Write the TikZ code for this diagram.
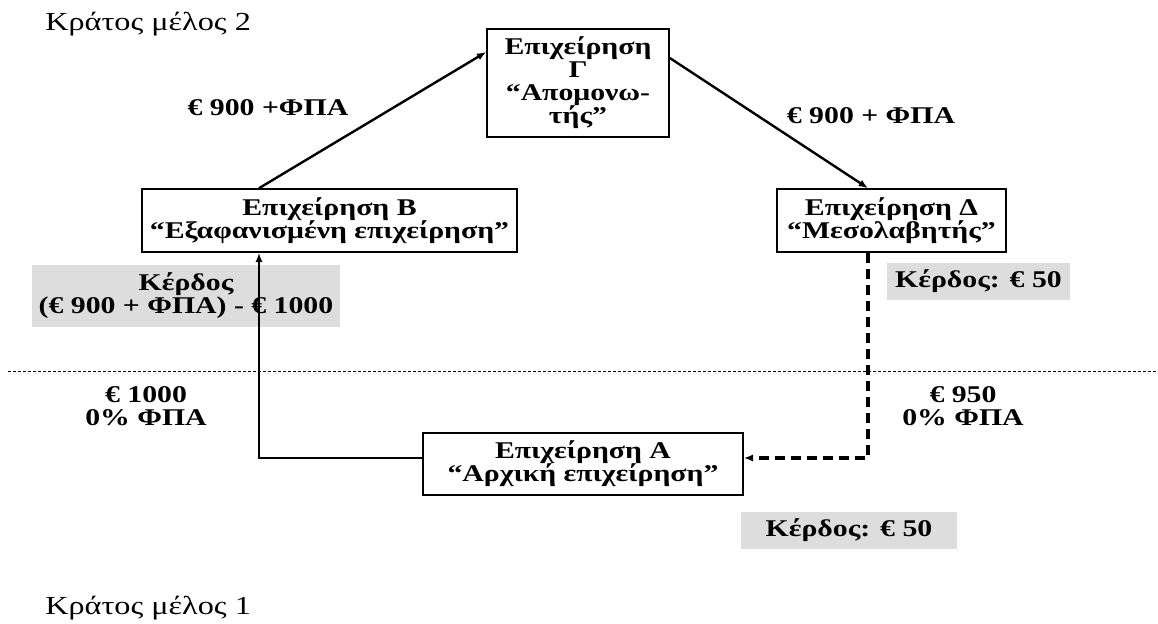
\documentclass[tikz,border=0pt]{standalone}
\usepackage{fontspec}
\setmainfont{Liberation Serif}[FakeStretch=1.24]
\usetikzlibrary{arrows.meta}
\definecolor{greyfill}{RGB}{221,221,221}
\lineskiplimit=-20pt\relax
\begin{document}
\begin{tikzpicture}[x=0.75pt,y=-0.75pt,
  txt/.style={font=\bfseries\fontsize{18}{17.3}\selectfont, align=center, inner sep=0pt},
  box/.style={txt, draw, line width=1.2pt},
  greybox/.style={txt, fill=greyfill},
  plain/.style={font=\fontsize{19.5}{20}\selectfont, inner sep=0pt, anchor=base west},
  arr/.style={line width=1.8pt, -{Latex[length=7pt,width=5.5pt]}},
  dasharr/.style={line width=2.4pt, dash pattern=on 7.5pt off 4.5pt, -{Latex[length=7pt,width=5.5pt]}}
]
\useasboundingbox (0,0) rectangle (1158,624);

% helper coordinates for connector positions
\coordinate (vx) at (259,0);
\coordinate (dx) at (868,0);
\coordinate (gy1) at (0,52);
\coordinate (gy2) at (0,58);
\coordinate (ay) at (0,458);

% state labels and border
\node[plain] (s2) at (45,31) {Κράτος μέλος 2};
\node[plain] (s1) at (45,614) {Κράτος μέλος 1};
\coordinate (bl) at (8,371);
\coordinate (br) at (1158,371);
\draw[line width=0.75pt, dash pattern=on 2.25pt off 1.5pt] (bl) -- (br);

% grey profit boxes
\node[greybox, minimum width=231pt, minimum height=46.5pt] (gB) at (186,296) {Κέρδος\\(€ 900 + ΦΠΑ) - € 1000};
\node[greybox, minimum width=137.25pt, minimum height=27.75pt] (gD) at (978.5,281.5) {Κέρδος: € 50};
\node[greybox, minimum width=162pt, minimum height=27.75pt] (gA) at (849,530.5) {Κέρδος: € 50};

% companies
\node[box, minimum width=136.5pt, minimum height=81pt] (G) at (578,83) {Επιχείρηση\\Γ\\“Απομονω-\\τής”};
\node[box, minimum width=281.25pt, minimum height=47.25pt] (B) at (329.5,220.5) {Επιχείρηση Β\\“Εξαφανισμένη επιχείρηση”};
\node[box, minimum width=171.75pt, minimum height=47.25pt] (D) at (891.5,220.5) {Επιχείρηση Δ\\“Μεσολαβητής”};
\node[box, minimum width=240pt, minimum height=46.5pt] (A) at (583,464) {Επιχείρηση Α\\“Αρχική επιχείρηση”};

% flow labels
\node[txt] (l1) at (268,108) {€ 900 +ΦΠΑ};
\node[txt] (l2) at (871,116) {€ 900 + ΦΠΑ};
\node[txt] (l3) at (146,406) {€ 1000\\0\% ΦΠΑ};
\node[txt] (l4) at (963,406) {€ 950\\0\% ΦΠΑ};

% connectors
\draw[arr] (B.north -| vx) -- (G.west |- gy1);
\draw[arr] (G.east |- gy2) -- (D.north -| dx);
\draw[arr] (A.west |- ay) -| (B.south -| vx);
\draw[dasharr] (D.south -| dx) |- (A.east |- ay);
\end{tikzpicture}
\end{document}
